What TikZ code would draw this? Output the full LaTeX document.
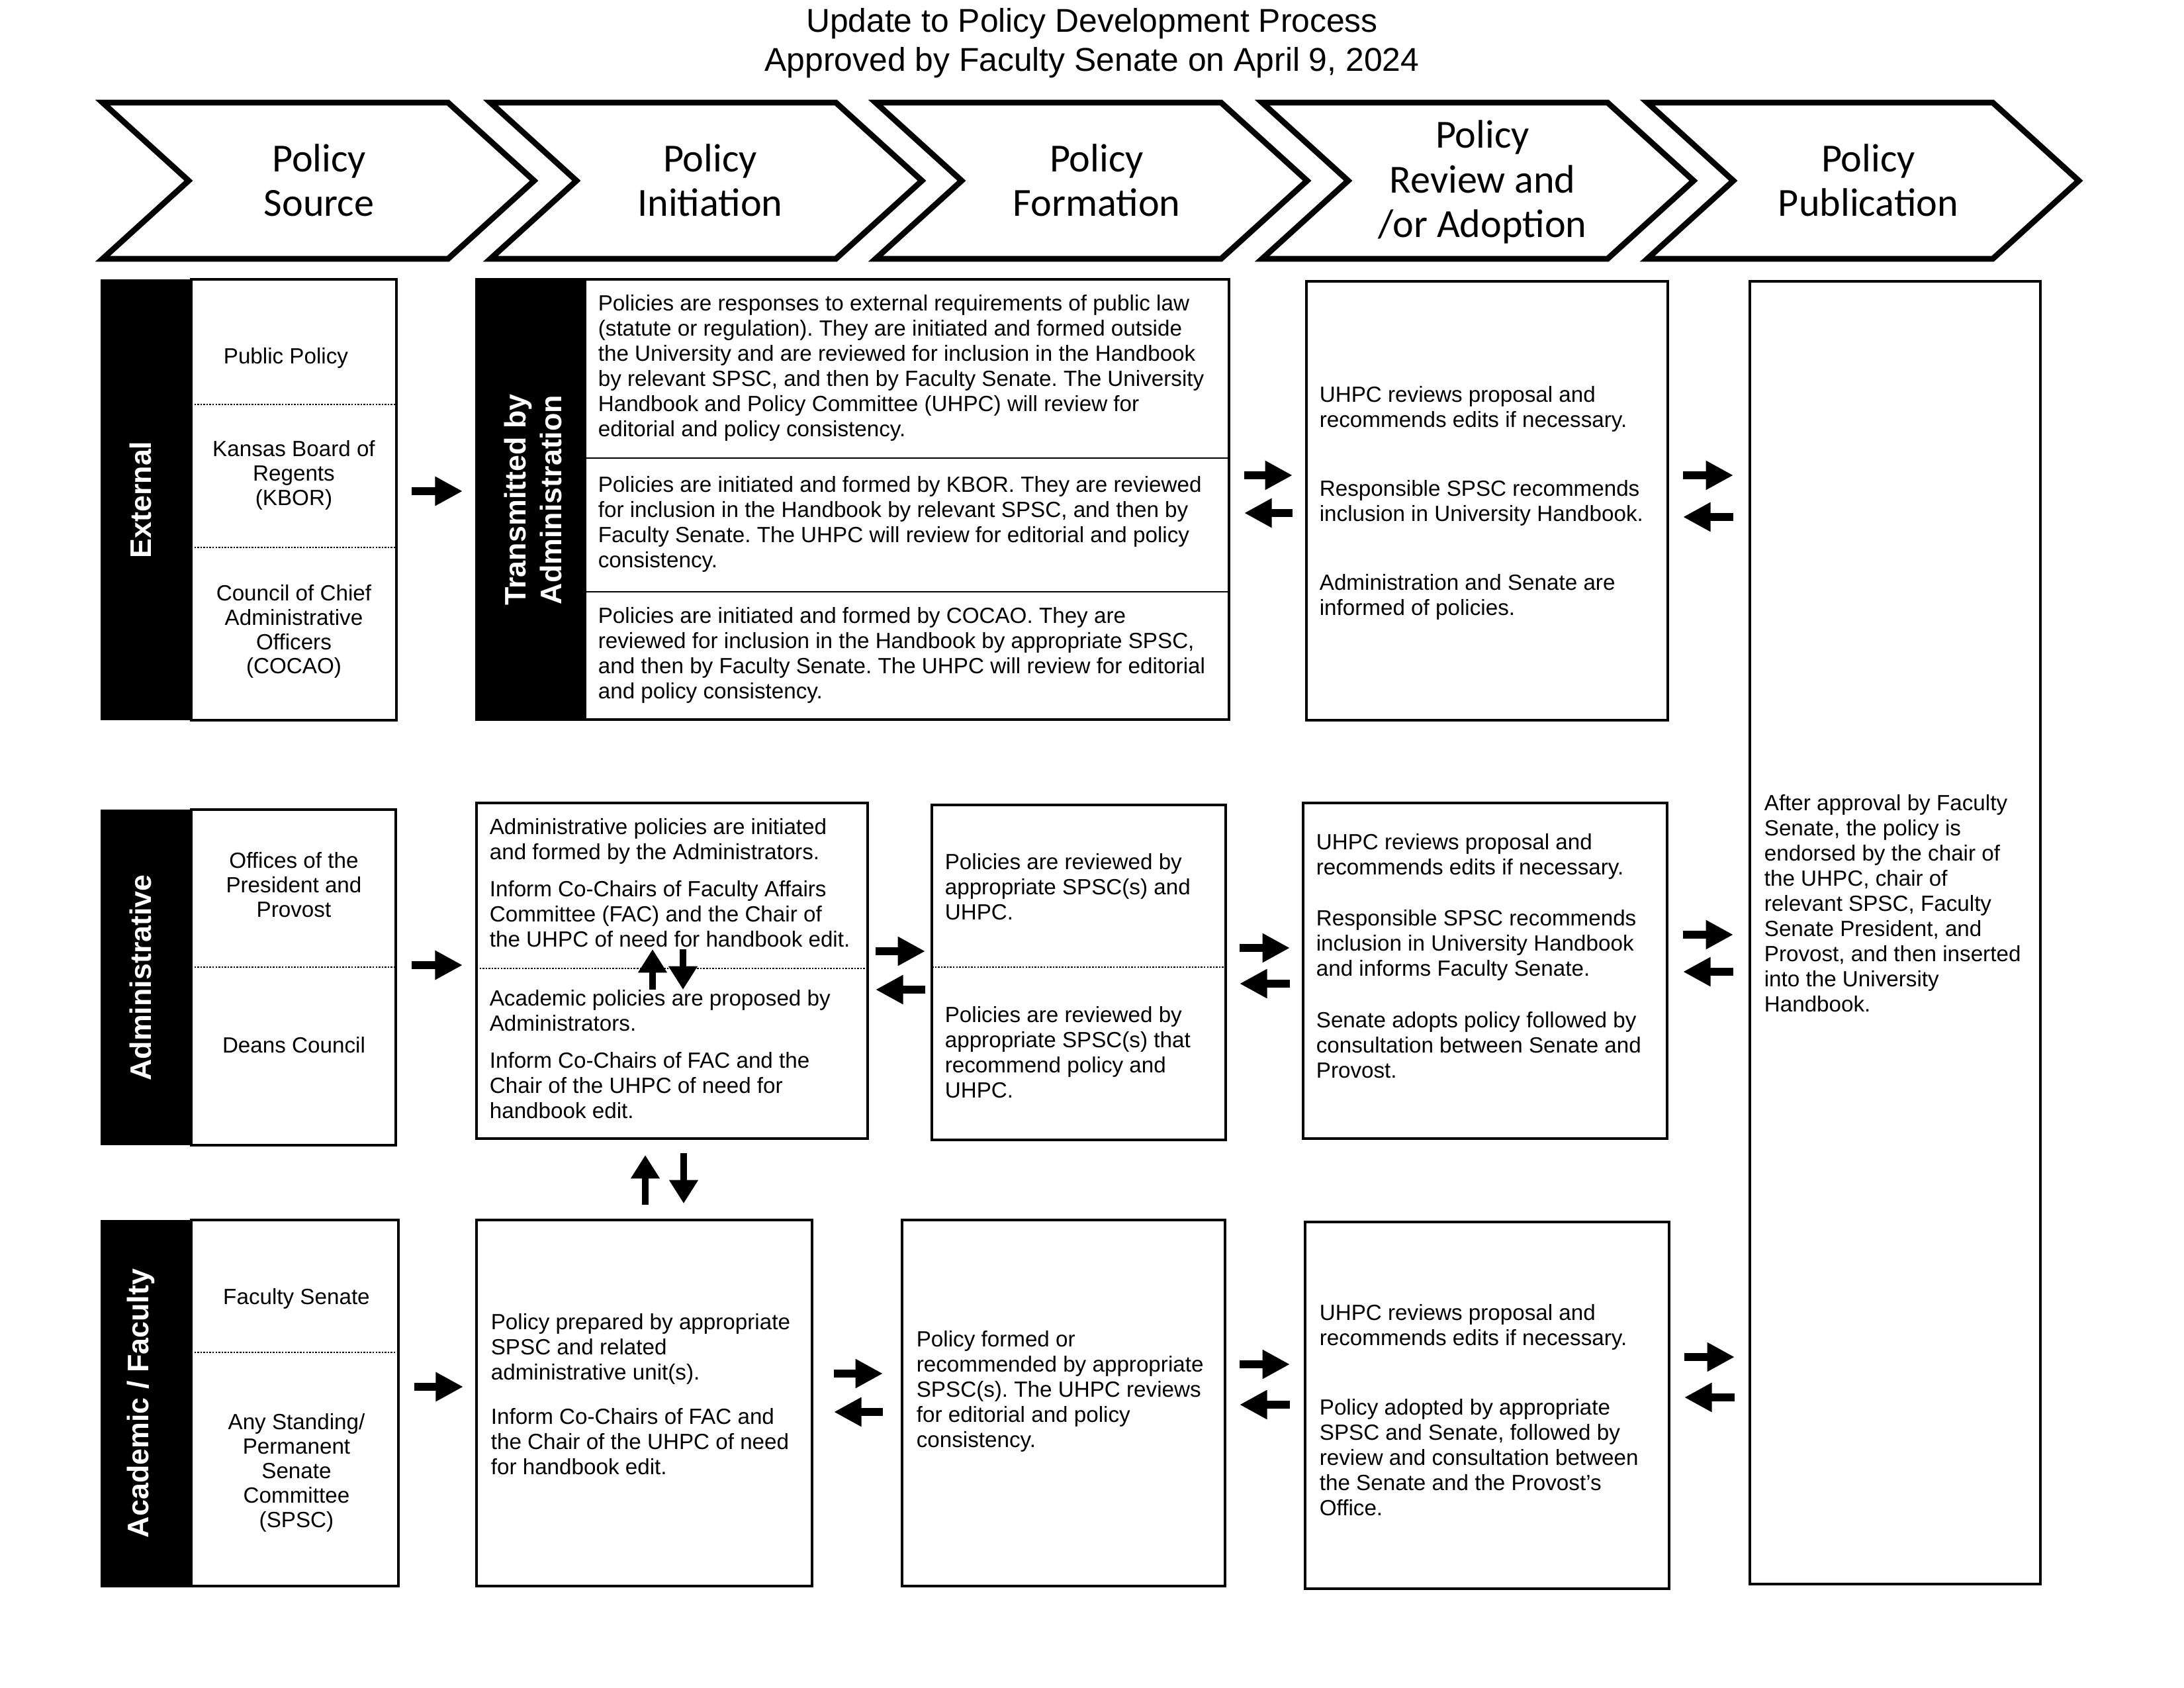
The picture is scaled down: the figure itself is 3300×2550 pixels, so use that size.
\documentclass[tikz,border=0pt]{standalone}
\usepackage{fontspec}
\setmainfont{Liberation Sans}
\newfontfamily\calib{Carlito}
\usetikzlibrary{arrows.meta,fit}
\frenchspacing
\begin{document}
\begin{tikzpicture}[x=0.2409pt,y=-0.2409pt,
  box/.style={draw, line width=0.9pt, inner sep=0pt},
  bar/.style={fill=black, inner sep=0pt},
  txt/.style={font=\fontsize{8}{9.15}\selectfont, align=left, inner sep=0pt, anchor=west},
  ctxt/.style={font=\fontsize{8}{8.9}\selectfont, align=center, inner sep=0pt},
  vlab/.style={font=\fontsize{10.8}{13}\selectfont\bfseries, text=white, rotate=90, align=center, inner sep=0pt},
  chev/.style={draw, line width=2.1pt, miter limit=10},
  chevtxt/.style={font=\calib\fontsize{14.5}{16.2}\selectfont, align=center, inner sep=0pt},
  harrow/.style={line width=2.8pt, -{Triangle[length=10pt,width=10pt]}},
  varrow/.style={line width=2.2pt, -{Triangle[length=8.5pt,width=10pt]}},
  divd/.style={dash pattern=on 0.6pt off 0.5pt, line width=0.6pt},
  divs/.style={line width=0.7pt}]
\useasboundingbox (0,0) rectangle (3300,2550);

% title
\node[font=\fontsize{12}{14.2}\selectfont, align=center, inner sep=0pt] (title) at (1650,65)
  {Update to Policy Development Process\\Approved by Faculty Senate on April 9, 2024};

% chevrons
\foreach \x/\nm in {147/c1,733/c2,1315/c3,1899/c4,2481/c5}{
  \draw[chev] (\x+8,155) -- (\x+530,155) -- (\x+660,273) -- (\x+530,391) -- (\x+8,391) -- (\x+138,273) -- cycle;
}
\node[chevtxt] (ch1) at (482,272) {Policy\\Source};
\node[chevtxt] (ch2) at (1073,272) {Policy\\Initiation};
\node[chevtxt] (ch3) at (1657,272) {Policy\\Formation};
\node[chevtxt] (ch4) at (2240,275) {Policy\\Review and\\/or Adoption};
\node[chevtxt] (ch5) at (2823,272) {Policy\\Publication};

% ===== Row 1 : External =====
\node[box, fit={(289,422) (599,1088)}] (src1) {};
\node[bar, fit={(152,422) (289,1088)}] (bar1) {};
\draw[divd] (289,611) -- (599,611);
\draw[divd] (289,827) -- (599,827);
\node[vlab] (lab1) at (212,755) {External};
\node[ctxt] (pp) at (432,541) {Public Policy};
\node[ctxt] (kbor) at (444,718) {Kansas Board of\\Regents\\(KBOR)};
\node[ctxt] (cocao) at (444,954) {Council of Chief\\Administrative\\Officers\\(COCAO)};

\node[box, fit={(720,422) (1857,1087)}] (init1) {};
\node[bar, fit={(720,422) (886,1087)}] (bar1b) {};
\node[vlab] (lab1b) at (805,755) {Transmitted by\\Administration};
\draw[divs] (886,692) -- (1857,692);
\draw[divs] (886,894) -- (1857,894);
\node[txt] (t1a) at (903,556) {Policies are responses to external requirements of public law\\(statute or regulation). They are initiated and formed outside\\the University and are reviewed for inclusion in the Handbook\\by relevant SPSC, and then by Faculty Senate. The University\\Handbook and Policy Committee (UHPC) will review for\\editorial and policy consistency.};
\node[txt] (t1b) at (903,792) {Policies are initiated and formed by KBOR. They are reviewed\\for inclusion in the Handbook by relevant SPSC, and then by\\Faculty Senate. The UHPC will review for editorial and policy\\consistency.};
\node[txt] (t1c) at (903,990) {Policies are initiated and formed by COCAO. They are\\reviewed for inclusion in the Handbook by appropriate SPSC,\\and then by Faculty Senate. The UHPC will review for editorial\\and policy consistency.};

\node[box, fit={(1974,425) (2520,1088)}] (rev1) {};
\node[txt] (r1) at (1993,760) {UHPC reviews proposal and\\recommends edits if necessary.\\[16pt]Responsible SPSC recommends\\inclusion in University Handbook.\\[16pt]Administration and Senate are\\informed of policies.};

% publication
\node[box, fit={(2644,425) (3083,2393)}] (pub) {};
\node[txt] (pubt) at (2665,1365) {After approval by Faculty\\Senate, the policy is\\endorsed by the chair of\\the UHPC, chair of\\relevant SPSC, Faculty\\Senate President, and\\Provost, and then inserted\\into the University\\Handbook.};

% row 1 arrows
\coordinate (a11s) at (622,742); \coordinate (a11e) at (699,742);
\coordinate (a12s) at (1880,718); \coordinate (a12e) at (1953,718);
\coordinate (a13s) at (1953,775); \coordinate (a13e) at (1880,775);
\coordinate (a14s) at (2543,718); \coordinate (a14e) at (2619,718);
\coordinate (a15s) at (2619,781); \coordinate (a15e) at (2543,781);
\draw[harrow] (a11s) -- (a11e);
\draw[harrow] (a12s) -- (a12e);
\draw[harrow] (a13s) -- (a13e);
\draw[harrow] (a14s) -- (a14e);
\draw[harrow] (a15s) -- (a15e);

% ===== Row 2 : Administrative =====
\node[box, fit={(289,1223) (598,1730)}] (src2) {};
\node[bar, fit={(152,1223) (289,1730)}] (bar2) {};
\draw[divd] (289,1461) -- (598,1461);
\node[vlab] (lab2) at (212,1477) {Administrative};
\node[ctxt] (off) at (444,1337) {Offices of the\\President and\\Provost};
\node[ctxt] (deans) at (444,1579) {Deans Council};

\node[box, fit={(720,1213) (1311,1720)}] (init2) {};
\draw[divd] (720,1463) -- (1311,1463);
\node[txt] (t2a) at (739,1334) {Administrative policies are initiated\\and formed by the Administrators.\\[4.3pt]Inform Co-Chairs of Faculty Affairs\\Committee (FAC) and the Chair of\\the UHPC of need for handbook edit.};
\node[txt] (t2b) at (739,1593) {Academic policies are proposed by\\Administrators.\\[4.3pt]Inform Co-Chairs of FAC and the\\Chair of the UHPC of need for\\handbook edit.};

\node[box, fit={(1408,1216) (1852,1722)}] (form2) {};
\draw[divd] (1408,1461) -- (1852,1461);
\node[txt] (f2a) at (1427,1340) {Policies are reviewed by\\appropriate SPSC(s) and\\UHPC.};
\node[txt] (f2b) at (1427,1590) {Policies are reviewed by\\appropriate SPSC(s) that\\recommend policy and\\UHPC.};

\node[box, fit={(1969,1213) (2519,1720)}] (rev2) {};
\node[txt] (r2) at (1988,1444) {UHPC reviews proposal and\\recommends edits if necessary.\\[9.6pt]Responsible SPSC recommends\\inclusion in University Handbook\\and informs Faculty Senate.\\[9.6pt]Senate adopts policy followed by\\consultation between Senate and\\Provost.};

% row 2 arrows
\coordinate (a21s) at (622,1458); \coordinate (a21e) at (699,1458);
\coordinate (a22s) at (1323,1437); \coordinate (a22e) at (1398,1437);
\coordinate (a23s) at (1398,1495); \coordinate (a23e) at (1323,1495);
\coordinate (a24s) at (1873,1432); \coordinate (a24e) at (1949,1432);
\coordinate (a25s) at (1949,1486); \coordinate (a25e) at (1873,1486);
\coordinate (a26s) at (2543,1412); \coordinate (a26e) at (2619,1412);
\coordinate (a27s) at (2619,1468); \coordinate (a27e) at (2543,1468);
\draw[harrow] (a21s) -- (a21e);
\draw[harrow] (a22s) -- (a22e);
\draw[harrow] (a23s) -- (a23e);
\draw[harrow] (a24s) -- (a24e);
\draw[harrow] (a25s) -- (a25e);
\draw[harrow] (a26s) -- (a26e);
\draw[harrow] (a27s) -- (a27e);
% inner vertical arrows
\coordinate (v1s) at (986,1495); \coordinate (v1e) at (986,1434);
\coordinate (v2s) at (1032,1434); \coordinate (v2e) at (1032,1495);
\draw[varrow] (v1s) -- (v1e);
\draw[varrow] (v2s) -- (v2e);
% between rows 2 and 3
\coordinate (v3s) at (975,1820); \coordinate (v3e) at (975,1745);
\coordinate (v4s) at (1033,1742); \coordinate (v4e) at (1033,1818);
\draw[varrow] (v3s) -- (v3e);
\draw[varrow] (v4s) -- (v4e);

% ===== Row 3 : Academic / Faculty =====
\node[box, fit={(289,1843) (602,2396)}] (src3) {};
\node[bar, fit={(152,1843) (289,2398)}] (bar3) {};
\draw[divd] (289,2043) -- (602,2043);
\node[vlab] (lab3) at (213,2120) {Academic / Faculty};
\node[ctxt] (fs) at (448,1962) {Faculty Senate};
\node[ctxt] (spsc) at (448,2225) {Any Standing/\\Permanent\\Senate\\Committee\\(SPSC)};

\node[box, fit={(720,1843) (1227,2396)}] (init3) {};
\node[txt] (t3) at (741,2106) {Policy prepared by appropriate\\SPSC and related\\administrative unit(s).\\[7pt]Inform Co-Chairs of FAC and\\the Chair of the UHPC of need\\for handbook edit.};

\node[box, fit={(1363,1843) (1851,2396)}] (form3) {};
\node[txt] (f3) at (1384,2102) {Policy formed or\\recommended by appropriate\\SPSC(s). The UHPC reviews\\for editorial and policy\\consistency.};

\node[box, fit={(1972,1846) (2522,2400)}] (rev3) {};
\node[txt] (r3) at (1993,2130) {UHPC reviews proposal and\\recommends edits if necessary.\\[16pt]Policy adopted by appropriate\\SPSC and Senate, followed by\\review and consultation between\\the Senate and the Provost’s\\Office.};

% row 3 arrows
\coordinate (a31s) at (626,2095); \coordinate (a31e) at (700,2095);
\coordinate (a32s) at (1260,2075); \coordinate (a32e) at (1334,2075);
\coordinate (a33s) at (1334,2133); \coordinate (a33e) at (1260,2133);
\coordinate (a34s) at (1873,2061); \coordinate (a34e) at (1949,2061);
\coordinate (a35s) at (1949,2122); \coordinate (a35e) at (1873,2122);
\coordinate (a36s) at (2545,2050); \coordinate (a36e) at (2621,2050);
\coordinate (a37s) at (2621,2111); \coordinate (a37e) at (2545,2111);
\draw[harrow] (a31s) -- (a31e);
\draw[harrow] (a32s) -- (a32e);
\draw[harrow] (a33s) -- (a33e);
\draw[harrow] (a34s) -- (a34e);
\draw[harrow] (a35s) -- (a35e);
\draw[harrow] (a36s) -- (a36e);
\draw[harrow] (a37s) -- (a37e);
\end{tikzpicture}
\end{document}
